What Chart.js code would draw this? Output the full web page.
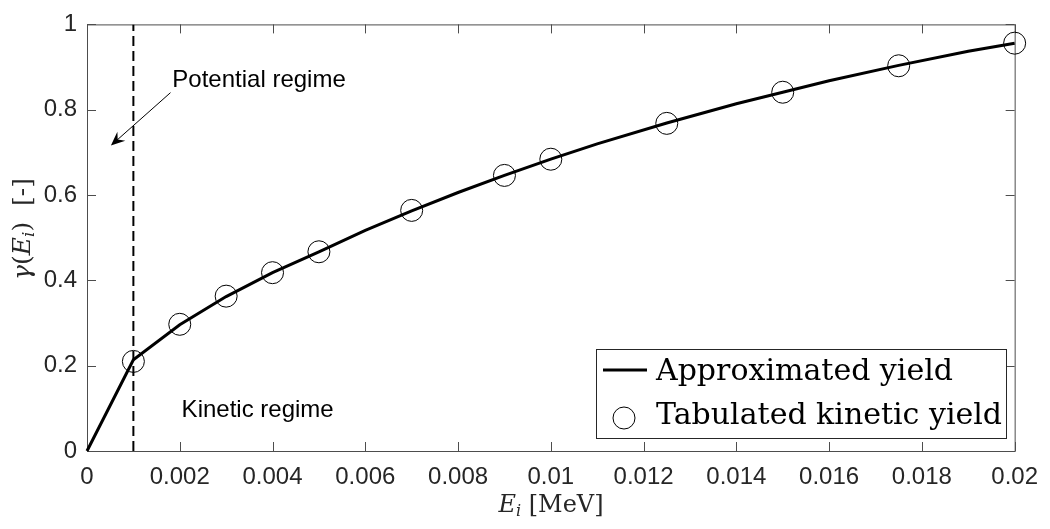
<!DOCTYPE html>
<html>
<head>
<meta charset="utf-8">
<script src="https://cdn.jsdelivr.net/npm/chart.js@4"></script>
<style>
  html, body { margin: 0; padding: 0; background: #fff; }
  #wrap { width: 1050px; height: 529px; }
</style>
</head>
<body>
<div id="wrap"><canvas id="myChart" width="1050" height="529"></canvas></div>
<script>
// tabulated kinetic yield (circles)
const tabE = [0.001, 0.002, 0.003, 0.004, 0.005, 0.007, 0.009, 0.01, 0.0125, 0.015, 0.0175, 0.02];
const tabYield = [0.210, 0.297, 0.363, 0.418, 0.467, 0.564, 0.646, 0.684, 0.768, 0.841, 0.903, 0.956];

// approximated yield (solid curve)
const approxE = [0, 0.001, 0.002, 0.003, 0.004, 0.005, 0.006, 0.007, 0.008, 0.009, 0.01, 0.011, 0.0125, 0.014, 0.015, 0.016, 0.0175, 0.019, 0.02];
const approxYield = [0, 0.214, 0.296, 0.362, 0.418, 0.467, 0.517, 0.563, 0.606, 0.646, 0.684, 0.720, 0.769, 0.814, 0.841, 0.868, 0.904, 0.937, 0.956];

// regime boundary (dashed line)
const boundaryE = [0.001, 0.001];
const boundaryY = [0, 1];

const seriesNames = ['Approximated yield', 'Tabulated kinetic yield'];

const xTicks = [0, 0.002, 0.004, 0.006, 0.008, 0.01, 0.012, 0.014, 0.016, 0.018, 0.02];
const xTickLabels = ['0', '0.002', '0.004', '0.006', '0.008', '0.01', '0.012', '0.014', '0.016', '0.018', '0.02'];
const yTicks = [0, 0.2, 0.4, 0.6, 0.8, 1];
const yTickLabels = ['0', '0.2', '0.4', '0.6', '0.8', '1'];

const axisCol = '#4d4d4d';
const textCol = '#262626';
const serif = '"DejaVu Serif"';
const sans = '"Liberation Sans", Arial, sans-serif';

function pts(xs, ys) { return xs.map((v, i) => ({x: v, y: ys[i]})); }

// draw a run of text pieces (for italics / subscripts)
function richWidth(ctx, parts) {
  let w = 0;
  parts.forEach(p => { ctx.font = p.f; w += ctx.measureText(p.t).width; });
  return w;
}
function richDraw(ctx, parts, x, y) {
  parts.forEach(p => {
    ctx.font = p.f;
    ctx.fillText(p.t, x, y + (p.dy || 0));
    x += ctx.measureText(p.t).width;
  });
}

const frame = {
  id: 'frame',
  beforeDatasetsDraw(chart) {
    const {ctx, chartArea: a, scales: {x, y}} = chart;
    ctx.save();
    ctx.strokeStyle = axisCol;
    ctx.lineWidth = 1;
    ctx.strokeRect(a.left + 0.5, a.top + 0.5, a.right - a.left, a.bottom - a.top);
    ctx.beginPath();
    xTicks.forEach(v => {
      const px = Math.round(x.getPixelForValue(v)) + 0.5;
      ctx.moveTo(px, a.bottom); ctx.lineTo(px, a.bottom - 9);
      ctx.moveTo(px, a.top); ctx.lineTo(px, a.top + 9);
    });
    yTicks.forEach(v => {
      const py = Math.round(y.getPixelForValue(v)) + 0.5;
      ctx.moveTo(a.left, py); ctx.lineTo(a.left + 9, py);
      ctx.moveTo(a.right, py); ctx.lineTo(a.right - 9, py);
    });
    ctx.stroke();
    ctx.restore();
  },
  afterDraw(chart) {
    const {ctx, chartArea: a, scales: {x, y}} = chart;
    ctx.save();
    ctx.fillStyle = '#000';
    ctx.textBaseline = 'alphabetic';

    // regime labels
    ctx.font = '24px ' + sans;
    ctx.fillText('Potential regime', x.getPixelForValue(0.00184), y.getPixelForValue(0.854));
    ctx.fillText('Kinetic regime', x.getPixelForValue(0.00204), y.getPixelForValue(0.079));

    // arrow
    const x0 = x.getPixelForValue(0.0018), y0 = y.getPixelForValue(0.840);
    const x1 = x.getPixelForValue(0.000515), y1 = y.getPixelForValue(0.716);
    const ang = Math.atan2(y1 - y0, x1 - x0);
    ctx.strokeStyle = '#000';
    ctx.lineWidth = 1;
    ctx.beginPath(); ctx.moveTo(x0, y0); ctx.lineTo(x1 - 6 * Math.cos(ang), y1 - 6 * Math.sin(ang)); ctx.stroke();
    const L = 14, W = 6;
    const bx = x1 - L * Math.cos(ang), by = y1 - L * Math.sin(ang);
    const nx = x1 - L * 0.65 * Math.cos(ang), ny = y1 - L * 0.65 * Math.sin(ang);
    ctx.beginPath();
    ctx.moveTo(x1, y1);
    ctx.lineTo(bx + W * Math.sin(ang), by - W * Math.cos(ang));
    ctx.lineTo(nx, ny);
    ctx.lineTo(bx - W * Math.sin(ang), by + W * Math.cos(ang));
    ctx.closePath();
    ctx.fill();

    // axis titles
    ctx.fillStyle = textCol;
    const xt = [
      {t: 'E', f: 'italic 24px ' + serif},
      {t: 'i', f: 'italic 16px ' + serif, dy: 4},
      {t: ' [MeV]', f: '24px ' + serif}
    ];
    const xw = richWidth(ctx, xt);
    richDraw(ctx, xt, 551 - xw / 2, 512);

    const yt = [
      {t: '\u03B3', f: 'italic 25px ' + serif},
      {t: '(', f: '25px ' + serif},
      {t: 'E', f: 'italic 25px ' + serif},
      {t: 'i', f: 'italic 17px ' + serif, dy: 4},
      {t: ')', f: '25px ' + serif},
      {t: '  [-]', f: '25px ' + serif}
    ];
    const yw = richWidth(ctx, yt);
    ctx.save();
    ctx.translate(30, 229);
    ctx.rotate(-Math.PI / 2);
    richDraw(ctx, yt, -yw / 2, 0);
    ctx.restore();

    // legend
    ctx.fillStyle = '#fff';
    ctx.fillRect(596, 349, 411, 89);
    ctx.strokeStyle = textCol;
    ctx.lineWidth = 1;
    ctx.strokeRect(596.5, 349.5, 410, 89);
    ctx.strokeStyle = '#000';
    ctx.lineWidth = 3;
    ctx.beginPath(); ctx.moveTo(603, 370); ctx.lineTo(647, 370); ctx.stroke();
    ctx.lineWidth = 1;
    ctx.beginPath(); ctx.arc(624, 418, 11, 0, Math.PI * 2); ctx.stroke();
    ctx.fillStyle = '#000';
    ctx.font = '30px ' + serif;
    ctx.fillText(seriesNames[0], 656, 380);
    ctx.fillText(seriesNames[1], 656, 424);
    ctx.restore();
  }
};

const config = {
  type: 'scatter',
  data: {
    datasets: [{
      label: seriesNames[0],
      data: pts(approxE, approxYield),
      showLine: true,
      borderColor: '#000',
      borderWidth: 3,
      pointRadius: 0,
      clip: false
    }, {
      label: seriesNames[1],
      data: pts(tabE, tabYield),
      showLine: false,
      borderColor: '#000',
      backgroundColor: 'rgba(0,0,0,0)',
      borderWidth: 1,
      pointRadius: 11,
      pointStyle: 'circle',
      clip: false
    }, {
      label: 'boundary',
      data: pts(boundaryE, boundaryY),
      showLine: true,
      borderColor: '#000',
      borderWidth: 2,
      borderDash: [10, 5],
      pointRadius: 0
    }]
  },
  options: {
    responsive: false,
    animation: false,
    events: [],
    layout: { padding: { top: 7, right: 31, left: 0, bottom: 0 } },
    plugins: { legend: { display: false }, tooltip: { enabled: false } },
    scales: {
      x: {
        type: 'linear',
        min: 0, max: 0.02,
        afterBuildTicks: s => { s.ticks = xTicks.map(v => ({value: v})); },
        afterFit: s => { s.height = 78; },
        grid: { display: false, drawTicks: false },
        border: { display: false },
        ticks: {
          callback: (v, i) => xTickLabels[i],
          color: textCol,
          font: { family: sans, size: 24 },
          padding: 12,
          maxRotation: 0,
          autoSkip: false
        }
      },
      y: {
        type: 'linear',
        min: 0, max: 1,
        afterBuildTicks: s => { s.ticks = yTicks.map(v => ({value: v})); },
        afterFit: s => { s.width = 87; },
        grid: { display: false, drawTicks: false },
        border: { display: false },
        ticks: {
          callback: (v, i) => yTickLabels[i],
          color: textCol,
          font: { family: sans, size: 24 },
          padding: 10
        }
      }
    }
  },
  plugins: [frame]
};

var myChart = new Chart(document.getElementById('myChart'), config);
</script>
</body>
</html>
